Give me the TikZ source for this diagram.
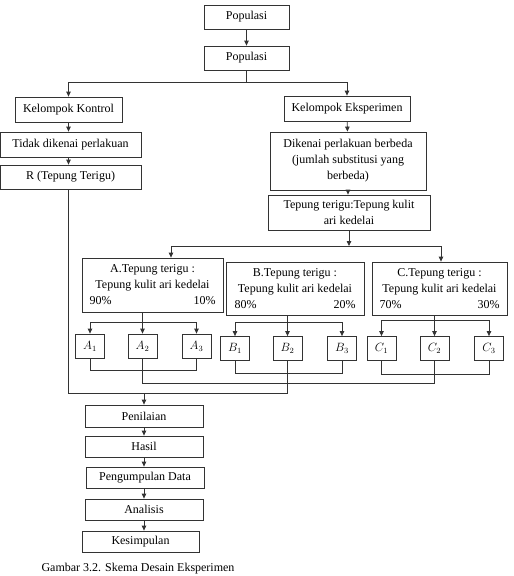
\documentclass[tikz,border=0pt]{standalone}
\usepackage{fontspec}
\setmainfont{Liberation Serif}
\usetikzlibrary{arrows.meta}
\begin{document}
\begin{tikzpicture}[x=1pt,y=-1pt,
  box/.style={draw=black!80,line width=0.8pt,inner sep=0pt,align=center,font=\fontsize{12}{16}\selectfont},
  sub/.style={box,minimum width=29pt,minimum height=24pt},
  ln/.style={draw=black!80,line width=0.8pt},
  arr/.style={ln,-{Triangle[length=5pt,width=4.5pt]}}]
\clip (0,0) rectangle (514,576);
\node[box,minimum width=85pt,minimum height=24pt] (pop1) at (246.5,17) {Populasi};
\node[box,minimum width=85pt,minimum height=24pt] (pop2) at (246.5,58) {Populasi};
\node[box,minimum width=107pt,minimum height=25pt] (kontrol) at (68.5,109.5) {Kelompok Kontrol};
\node[box,minimum width=126pt,minimum height=25pt] (eksp) at (347,108.5) {Kelompok Eksperimen};
\node[box,minimum width=141pt,minimum height=25pt] (tidak) at (70.5,144.5) {Tidak dikenai perlakuan};
\node[box,minimum width=141pt,minimum height=24pt] (rtt) at (70.5,177) {R (Tepung Terigu)};
\node[box,minimum width=156pt,minimum height=58pt] (dikenai) at (348,161) {Dikenai perlakuan berbeda\\(jumlah substitusi yang\\berbeda)};
\node[box,minimum width=162pt,minimum height=35pt] (rasio) at (349,212.5) {Tepung terigu:Tepung kulit\\ari kedelai};
\node[box,minimum width=141pt,minimum height=54pt] (ta) at (152.5,285) {A.Tepung terigu :\\Tepung kulit ari kedelai\\\makebox[126pt]{90\%\hfill10\%}};
\node[box,minimum width=138pt,minimum height=53pt] (tb) at (295,288.5) {B.Tepung terigu :\\Tepung kulit ari kedelai\\\makebox[121pt]{80\%\hfill20\%}};
\node[box,minimum width=135pt,minimum height=53pt] (tc) at (439.5,288.5) {C.Tepung terigu :\\Tepung kulit ari kedelai\\\makebox[120pt]{70\%\hfill30\%}};
\foreach \n/\l/\x/\y in {a1/A_1/90/346,a2/A_2/142.5/346,a3/A_3/196.5/346,
  b1/B_1/235/348.5,b2/B_2/287.5/348.5,b3/B_3/342/348.5,
  c1/C_1/381.5/348.5,c2/C_2/434.5/348.5,c3/C_3/489/348.5}
  \node[sub] (\n) at (\x,\y) {$\l$};
\node[box,minimum width=118pt,minimum height=22pt] (nilai) at (144,416) {Penilaian};
\node[box,minimum width=118pt,minimum height=21pt] (hasil) at (144,446.5) {Hasil};
\node[box,minimum width=118pt,minimum height=21pt] (kumpul) at (145,477.5) {Pengumpulan Data};
\node[box,minimum width=118pt,minimum height=21pt] (analisis) at (144,509.5) {Analisis};
\node[box,minimum width=117pt,minimum height=21pt] (simpul) at (140.5,541.5) {Kesimpulan};
\node[anchor=base west,font=\fontsize{12}{14}\selectfont] (caption) at (38,571) {Gambar 3.2. Skema Desain Eksperimen};

\draw[arr] (pop1) -- (pop2);
\coordinate (j0) at (246.5,82);
\draw[ln] (pop2.south) -- (j0);
\draw[arr] (j0) -| (kontrol.north);
\draw[arr] (j0) -| (eksp.north);
\draw[arr] (kontrol.south) -- (kontrol.south |- tidak.north);
\draw[arr] (kontrol.south |- tidak.south) -- (kontrol.south |- rtt.north);
\draw[arr] (eksp) -- (dikenai);
\draw[arr] (dikenai) -- (dikenai.south |- rasio.north);
\coordinate (ja) at (171,246);
\coordinate (jc) at (441,246);
\draw[ln] (ja) -- (jc);
\draw[arr] (rasio.south) -- (rasio.south |- ja);
\draw[arr] (ja) -- (ja |- ta.north);
\draw[arr] (jc) -- (jc |- tc.north);
\foreach \g/\t/\y/\z in {a/ta/322/370,b/tb/322/373,c/tc/320/374}{
  \coordinate (d\g) at (0,\y);
  \coordinate (k\g) at (0,\z);
  \draw[ln] (\g2 |- \t.south) -- (\g2 |- d\g);
  \draw[ln] (\g1 |- d\g) -- (\g3 |- d\g);
  \foreach \i in {1,2,3}
    \draw[arr] (\g\i |- d\g) -- (\g\i.north);
  \draw[ln] (\g1.south) -- (\g1 |- k\g) -- (\g3 |- k\g) -- (\g3.south);
}
\coordinate (m) at (0,383);
\coordinate (n) at (0,393);
\draw[ln] (a2.south) -- (a2 |- m) -- (c2 |- m) -- (c2.south);
\draw[ln] (kontrol |- rtt.south) -- (kontrol |- n) -- (b2 |- n) -- (b2.south);
\draw[arr] (nilai.north |- n) -- (nilai.north);
\draw[arr] (nilai) -- (hasil);
\draw[arr] (hasil.south) -- (hasil.south |- kumpul.north);
\draw[arr] (kumpul.south -| hasil) -- (hasil |- analisis.north);
\draw[arr] (analisis.south) -- (analisis.south |- simpul.north);
\end{tikzpicture}
\end{document}
